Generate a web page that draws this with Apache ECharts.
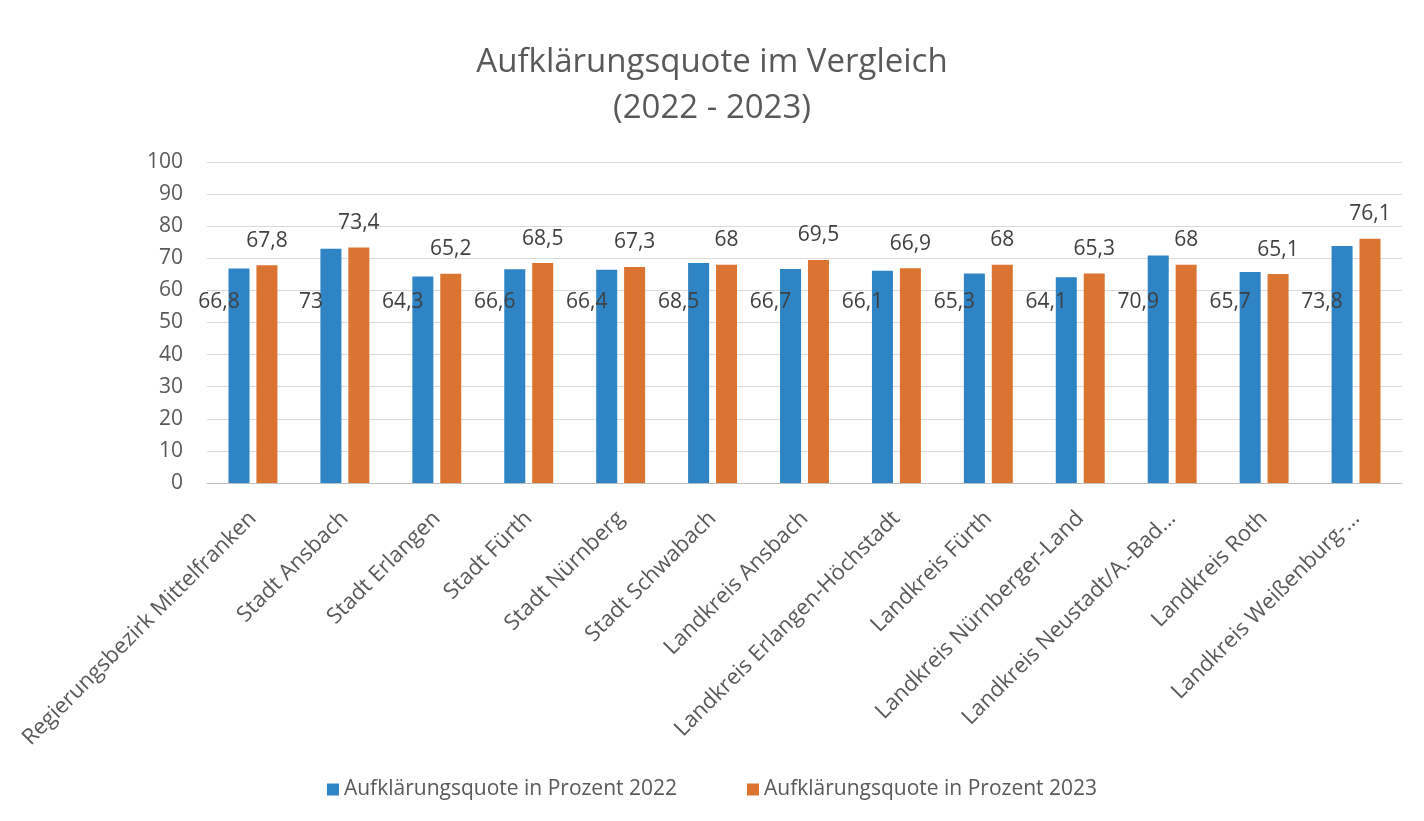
<!DOCTYPE html>
<html>
<head>
<meta charset="utf-8">
<script src="https://cdn.jsdelivr.net/npm/echarts@6/dist/echarts.min.js"></script>
<style>html,body{margin:0;padding:0;background:#fff}#c{width:1424px;height:821px}</style>
</head>
<body>
<div id="c"></div>
<script>
const categories = ["Regierungsbezirk Mittelfranken","Stadt Ansbach","Stadt Erlangen","Stadt Fürth","Stadt Nürnberg","Stadt Schwabach","Landkreis Ansbach","Landkreis Erlangen-Höchstadt","Landkreis Fürth","Landkreis Nürnberger-Land","Landkreis Neustadt/A.-Bad...","Landkreis Roth","Landkreis Weißenburg-..."];
const values2022 = [66.8,73,64.3,66.6,66.4,68.5,66.7,66.1,65.3,64.1,70.9,65.7,73.8];
const values2023 = [67.8,73.4,65.2,68.5,67.3,68,69.5,66.9,68,65.3,68,65.1,76.1];
const seriesNames = ["Aufklärungsquote in Prozent 2022","Aufklärungsquote in Prozent 2023"];
const titleText = "Aufklärungsquote im Vergleich\n(2022 - 2023)";

const FONT = "'Open Sans', 'Noto Sans', sans-serif";
const fmt = p => String(p.value).replace('.', ',');
const chart = echarts.init(document.getElementById('c'));
chart.setOption({
  backgroundColor: '#ffffff',
  animation: false,
  textStyle: { fontFamily: FONT },
  title: {
    text: titleText, left: 'center', top: 35,
    textStyle: { fontFamily: FONT, fontSize: 33, fontWeight: 'normal', color: '#595959', lineHeight: 46 }
  },
  legend: {
    top: 774, left: 'center', itemWidth: 12, itemHeight: 12, itemGap: 70, icon: 'rect',
    textStyle: { fontFamily: FONT, fontSize: 21, color: '#595959' }
  },
  grid: { left: 207, right: 22, top: 162, bottom: 338, containLabel: false },
  xAxis: {
    type: 'category', data: categories,
    axisTick: { show: false },
    axisLine: { lineStyle: { color: '#bfbfbf' } },
    axisLabel: { rotate: 45, interval: 0, margin: 32, fontSize: 22, color: '#595959', fontFamily: FONT }
  },
  yAxis: {
    type: 'value', min: 0, max: 100, interval: 10,
    axisLabel: { fontSize: 21, color: '#595959', margin: 24, fontFamily: FONT },
    splitLine: { lineStyle: { color: '#d9d9d9' } },
    axisLine: { show: false }, axisTick: { show: false }
  },
  series: [
    {
      name: seriesNames[0], type: 'bar', data: values2022, barWidth: 21, barGap: '33%',
      itemStyle: { color: '#2e84c4' },
      label: { show: true, position: 'insideBottom', distance: 0, offset: [-20, -170], formatter: fmt,
        fontSize: 21, color: '#404040', fontFamily: FONT }
    },
    {
      name: seriesNames[1], type: 'bar', data: values2023, barWidth: 21,
      itemStyle: { color: '#db7430' },
      label: { show: true, position: 'top', distance: 14, formatter: fmt,
        fontSize: 21, color: '#404040', fontFamily: FONT }
    }
  ]
});
</script>
</body>
</html>
